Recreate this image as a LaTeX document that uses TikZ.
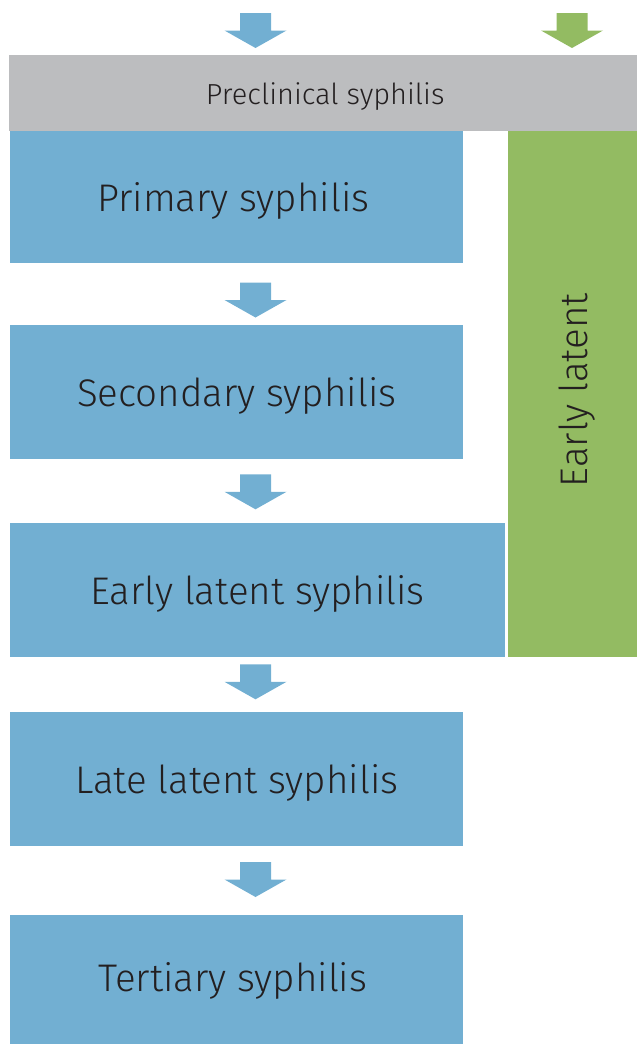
\documentclass[tikz,border=0pt]{standalone}
\usepackage{fontspec}
\setmainfont{Fira Sans}[UprightFont=* Light]
\definecolor{boxblue}{RGB}{114,175,210}
\definecolor{boxgreen}{RGB}{147,187,98}
\definecolor{boxgray}{RGB}{188,189,191}
\definecolor{txt}{RGB}{35,31,32}
\begin{document}
\begin{tikzpicture}[x=1pt,y=-1pt,
  stagebox/.style={fill=boxblue,draw=none,inner sep=0pt,anchor=north west,text=txt,text depth=0pt,font=\fontsize{38.5}{42}\selectfont}]
\useasboundingbox (0,0) rectangle (637,1044);
% gray bar
\node[fill=boxgray,inner sep=0pt,anchor=north west,minimum width=628pt,minimum height=76pt,text=txt,text depth=0pt,font=\fontsize{29}{32}\selectfont] (pre) at (9,55) {\hspace*{4pt}Preclinical syphilis};
% green column
\node[fill=boxgreen,inner sep=0pt,anchor=north west,minimum width=129pt,minimum height=526pt] (green) at (508,131) {};
\node[rotate=90,inner sep=0pt,text=txt,text depth=0pt,font=\fontsize{38.5}{42}\selectfont] (greenlbl) at ([yshift=4pt]green.center) {Early latent};
% blue boxes
\node[stagebox,minimum width=453pt,minimum height=131.5pt] (prim) at (10,131) {Primary syphilis\hspace*{7pt}};
\node[stagebox,minimum width=453pt,minimum height=134pt] (sec) at (10,325) {Secondary syphilis};
\node[stagebox,minimum width=495pt,minimum height=134pt] (elat) at (10,523) {Early latent syphilis};
\node[stagebox,minimum width=453pt,minimum height=133.5pt] (llat) at (10,712) {Late latent syphilis};
\node[stagebox,minimum width=453pt,minimum height=129pt] (tert) at (10,915) {\raisebox{5pt}{Tertiary syphilis}\hspace*{8pt}};
% block arrows
\newcommand{\blockarr}[3]{%
  \fill[#3] (#1-15.5,#2) -- (#1+15.5,#2) -- (#1+15.5,#2+17.5) -- (#1+31,#2+17.5) -- (#1,#2+35) -- (#1-31,#2+17.5) -- (#1-15.5,#2+17.5) -- cycle;}
\blockarr{255.5}{13}{boxblue}
\blockarr{572}{13}{boxgreen}
\blockarr{255.5}{282.5}{boxblue}
\blockarr{255.5}{474.3}{boxblue}
\blockarr{255.5}{664.3}{boxblue}
\blockarr{255.5}{862}{boxblue}
\end{tikzpicture}
\end{document}
